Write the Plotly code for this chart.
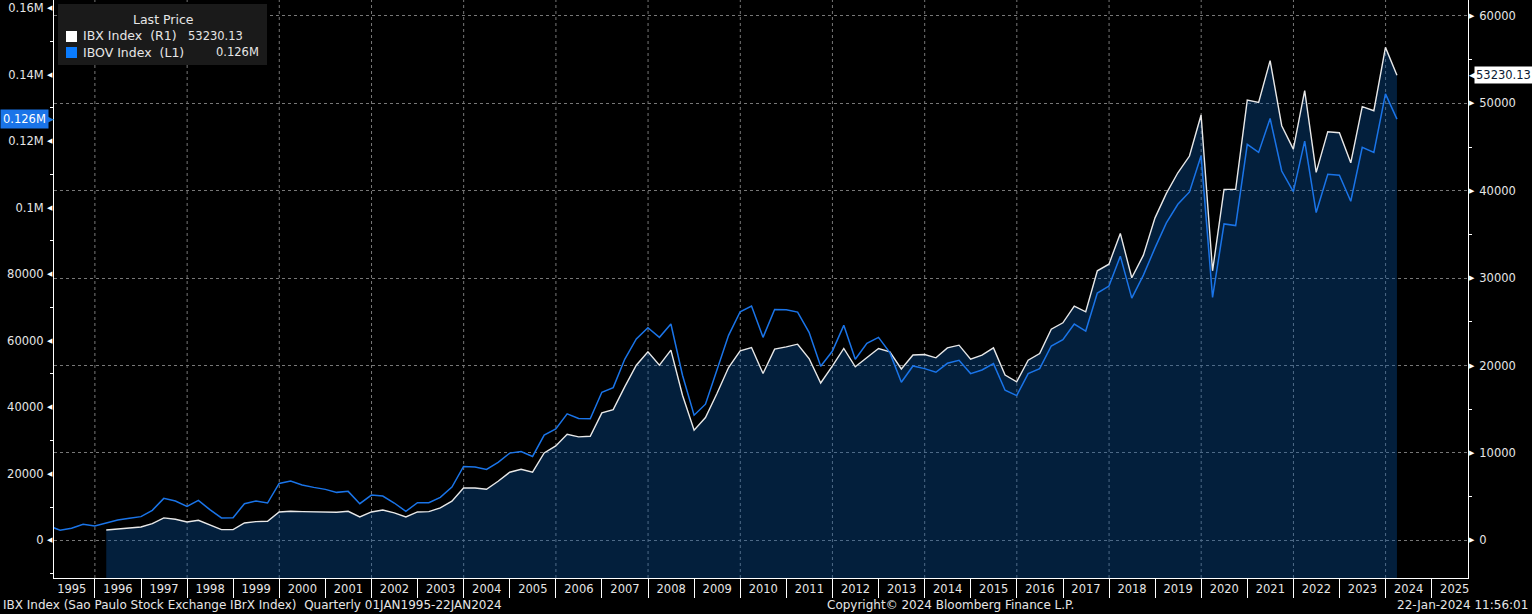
import math
import pandas as pd
import plotly.graph_objects as go

# ---------------- data ----------------
try:
    quarter_ends = pd.date_range("1994-12-31", "2024-03-31", freq="QE")
except Exception:
    quarter_ends = pd.date_range("1994-12-31", "2024-03-31", freq="Q")

# IBOV Index (left axis), quarterly closes, thousands, 1994Q4 .. 2024Q1
ibov_thousands = [
    4.35,
    3.0, 3.6, 4.8, 4.3,        # 1995
    5.3, 6.1, 6.6, 7.1,        # 1996
    9.0, 12.6, 11.8, 10.2,     # 1997
    12.0, 9.2, 6.7, 6.8,       # 1998
    11.0, 11.8, 11.2, 17.1,    # 1999
    17.8, 16.6, 15.9, 15.3,    # 2000
    14.4, 14.7, 11.0, 13.6,    # 2001
    13.3, 11.2, 8.7, 11.3,     # 2002
    11.3, 12.9, 16.0, 22.2,    # 2003
    22.0, 21.3, 23.4, 26.2,    # 2004
    26.7, 25.2, 31.6, 33.5,    # 2005
    38.0, 36.6, 36.5, 44.5,    # 2006
    45.9, 54.4, 60.5, 63.9,    # 2007
    61.0, 65.0, 49.6, 37.6,    # 2008
    40.9, 51.3, 61.6, 68.7,    # 2009
    70.4, 61.0, 69.4, 69.3,    # 2010
    68.6, 62.5, 52.3, 56.8,    # 2011
    64.6, 54.4, 59.2, 61.0,    # 2012
    56.4, 47.5, 52.4, 51.6,    # 2013
    50.5, 53.2, 54.1, 50.1,    # 2014
    51.2, 53.1, 45.1, 43.5,    # 2015
    50.1, 51.6, 58.4, 60.3,    # 2016
    65.0, 62.9, 74.3, 76.4,    # 2017
    85.4, 72.8, 79.7, 87.9,    # 2018
    95.4, 101.0, 104.7, 115.6, # 2019
    73.0, 95.1, 94.6, 119.0,   # 2020
    116.6, 126.8, 111.0, 104.8,# 2021
    120.0, 98.5, 110.0, 109.7, # 2022
    101.9, 118.1, 116.6, 134.2,# 2023
    126.6,                     # 2024
]

# IBX Index (right axis), quarterly closes, 1996Q1 .. 2024Q1
ibx_values = [
    1180, 1300, 1370, 1520,        # 1996
    1910, 2560, 2400, 2100,        # 1997
    2290, 1750, 1220, 1220,        # 1998
    1980, 2140, 2180, 3240,        # 1999
    3320, 3280, 3240, 3200,        # 2000
    3200, 3320, 2670, 3240,        # 2001
    3470, 3130, 2670, 3240,        # 2002
    3280, 3700, 4470, 5990,        # 2003
    5990, 5840, 6760, 7790,        # 2004
    8130, 7790, 10000, 10800,      # 2005
    12140, 11830, 11900, 14580,    # 2006
    14960, 17560, 20040, 21560,    # 2007
    20040, 21760, 16600, 12600,    # 2008
    14050, 16800, 19770, 21680,    # 2009
    22060, 19090, 21870, 22140,    # 2010
    22440, 20800, 18000, 19920,    # 2011
    21950, 19850, 20920, 21950,    # 2012
    21560, 19600, 21200, 21260,    # 2013
    20880, 22020, 22330, 20730,    # 2014
    21180, 22020, 18900, 18130,    # 2015
    20600, 21370, 24160, 24890,    # 2016
    26800, 26150, 30840, 31600,    # 2017
    35120, 30040, 32630, 36900,    # 2018
    39700, 42060, 43970, 48670,    # 2019
    30840, 40160, 40160, 50380,    # 2020
    50120, 54890, 47440, 44770,    # 2021
    51450, 42100, 46760, 46640,    # 2022
    43200, 49620, 49160, 56410,    # 2023
    53230.13,                      # 2024
]

ibov = [v * 1000 for v in ibov_thousands]
ibov_dates = quarter_ends[: len(ibov)]
ibx_dates = quarter_ends[5: 5 + len(ibx_values)]

years = list(range(1995, 2026))
left_tickvals = [0, 20000, 40000, 60000, 80000, 100000, 120000, 140000, 160000]
left_ticktext = ["0", "20000", "40000", "60000", "80000", "0.1M", "0.12M", "0.14M", "0.16M"]
left_minor = [-10000, 10000, 30000, 50000, 70000, 90000, 110000, 130000, 150000]
right_tickvals = [0, 10000, 20000, 30000, 40000, 50000, 60000]
right_ticktext = ["0", "10000", "20000", "30000", "40000", "50000", "60000"]
right_minor = [-5000, 5000, 15000, 25000, 35000, 45000, 55000]

X_RANGE = ["1995-02-11", "2025-10-15"]
Y_LEFT = [-11340, 162400]
Y_RIGHT = [-4317, 61830]

FONT = "DejaVu Sans"
TXT = "#e6e6e6"
BLUE = "#1a74e8"
WHITE_LINE = "#e8e8e8"
GRID = "#777777"

# ---------------- figure ----------------
fig = go.Figure()

# baseline for the IBX area (bottom of the right axis)
fig.add_trace(go.Scatter(
    x=ibx_dates, y=[Y_RIGHT[0]] * len(ibx_values), yaxis="y",
    mode="lines", line=dict(width=0, color="rgba(0,0,0,0)"),
    hoverinfo="skip", showlegend=False))
fig.add_trace(go.Scatter(
    x=ibx_dates, y=ibx_values, yaxis="y", name="IBX Index (R1)",
    mode="lines", line=dict(color=WHITE_LINE, width=1.4),
    fill="tonexty", fillcolor="rgba(8,84,162,0.37)", showlegend=False))
fig.add_trace(go.Scatter(
    x=ibov_dates, y=ibov, yaxis="y2", name="IBOV Index (L1)",
    mode="lines", line=dict(color=BLUE, width=1.5), showlegend=False))

W, H = 1532, 614
ML, MR, MT, MB = 54, 64, 0, 36
PW, PH = W - ML - MR, H - MT - MB


def fx(px):
    return (px - ML) / PW


def fy(py):
    return 1 - (py - MT) / PH


shapes = []
# vertical dashed grid every two years
for y in years:
    if y % 2 == 0:
        shapes.append(dict(type="line", xref="x", yref="paper",
                           x0=f"{y}-01-01", x1=f"{y}-01-01", y0=0, y1=1,
                           line=dict(color=GRID, width=1, dash="3px,3px"), layer="below"))

# legend box
shapes.append(dict(type="rect", xref="paper", yref="paper",
                   x0=fx(58), x1=fx(267), y0=fy(65), y1=fy(4),
                   fillcolor="#1a1a1a", line=dict(width=0), layer="above"))
shapes.append(dict(type="rect", xref="paper", yref="paper",
                   x0=fx(66), x1=fx(77), y0=fy(42), y1=fy(31),
                   fillcolor="#ffffff", line=dict(width=0), layer="above"))
shapes.append(dict(type="rect", xref="paper", yref="paper",
                   x0=fx(66), x1=fx(77), y0=fy(58), y1=fy(47),
                   fillcolor="#0a7cff", line=dict(width=0), layer="above"))

ann = []
# tick triangles
for v in left_tickvals:
    ann.append(dict(xref="paper", yref="y2", x=0, y=v, text="◀", showarrow=False,
                    xanchor="right", yanchor="middle", xshift=1,
                    font=dict(family=FONT, size=7, color="#ffffff")))
for v in right_tickvals:
    ann.append(dict(xref="paper", yref="y", x=1, y=v, text="▶", showarrow=False,
                    xanchor="left", yanchor="middle", xshift=-1,
                    font=dict(family=FONT, size=7, color="#ffffff")))

last_ibov = ibov[-1]
last_ibx = ibx_values[-1]
ibov_label = f"{math.floor(last_ibov / 1000) / 1000:.3f}M"
ibx_label = f"{last_ibx:.2f}"

# last value tags on the axes
ann.append(dict(xref="paper", yref="y2", x=0, y=last_ibov, text=ibov_label,
                showarrow=False, xanchor="right", yanchor="middle", xshift=-5,
                bgcolor=BLUE, borderpad=2,
                font=dict(family=FONT, size=11.5, color="#ffffff")))
ann.append(dict(xref="paper", yref="y2", x=0, y=last_ibov, text="▶",
                showarrow=False, xanchor="right", yanchor="middle", xshift=2,
                font=dict(family=FONT, size=9, color=BLUE)))
ann.append(dict(xref="paper", yref="y", x=1, y=last_ibx, text=ibx_label,
                showarrow=False, xanchor="left", yanchor="middle", xshift=6,
                bgcolor="#ffffff", borderpad=1,
                font=dict(family=FONT, size=11.5, color="#0b1a33")))
ann.append(dict(xref="paper", yref="y", x=1, y=last_ibx, text="◀",
                showarrow=False, xanchor="left", yanchor="middle", xshift=-1,
                font=dict(family=FONT, size=9, color="#ffffff")))

# legend texts
LEG = 12.5
LEGV = 11.5
ann.append(dict(xref="paper", yref="paper", x=fx(163), y=fy(20), text="Last Price",
                showarrow=False, xanchor="center", yanchor="middle",
                font=dict(family=FONT, size=LEG, color=TXT)))
ann.append(dict(xref="paper", yref="paper", x=fx(81), y=fy(36),
                text="IBX Index\u00a0\u00a0(R1)", showarrow=False,
                xanchor="left", yanchor="middle", font=dict(family=FONT, size=LEG, color=TXT)))
ann.append(dict(xref="paper", yref="paper", x=fx(245), y=fy(36), text=ibx_label,
                showarrow=False, xanchor="right", yanchor="middle",
                font=dict(family=FONT, size=LEGV, color=TXT)))
ann.append(dict(xref="paper", yref="paper", x=fx(81), y=fy(52),
                text="IBOV Index\u00a0\u00a0(L1)", showarrow=False,
                xanchor="left", yanchor="middle", font=dict(family=FONT, size=LEG, color=TXT)))
ann.append(dict(xref="paper", yref="paper", x=fx(261), y=fy(52), text=ibov_label,
                showarrow=False, xanchor="right", yanchor="middle",
                font=dict(family=FONT, size=LEGV, color=TXT)))

# footer
FOOT = 12
ann.append(dict(xref="paper", yref="paper", x=fx(1), y=fy(605),
                text="IBX Index (Sao Paulo Stock Exchange IBrX Index)\u00a0\u00a0Quarterly 01JAN1995-22JAN2024",
                showarrow=False, xanchor="left", yanchor="middle",
                font=dict(family=FONT, size=FOOT, color=TXT)))
ann.append(dict(xref="paper", yref="paper", x=fx(950), y=fy(605),
                text="Copyright© 2024 Bloomberg Finance L.P.",
                showarrow=False, xanchor="center", yanchor="middle",
                font=dict(family=FONT, size=FOOT, color=TXT)))
ann.append(dict(xref="paper", yref="paper", x=fx(1530), y=fy(605),
                text="22-Jan-2024 11:56:01",
                showarrow=False, xanchor="right", yanchor="middle",
                font=dict(family=FONT, size=FOOT, color=TXT)))

fig.update_layout(
    width=W, height=H,
    margin=dict(l=ML, r=MR, t=MT, b=MB, pad=0, autoexpand=False),
    paper_bgcolor="#000000", plot_bgcolor="#000000",
    font=dict(family=FONT, size=11, color=TXT),
    showlegend=False,
    xaxis=dict(
        type="date", range=X_RANGE, automargin=False,
        tickmode="array", tickvals=[f"{y}-07-02" for y in years],
        ticktext=[str(y) for y in years],
        ticks="", showgrid=False, zeroline=False,
        showline=True, linecolor="#ffffff", linewidth=1,
        tickfont=dict(family=FONT, size=11.5, color=TXT),
        minor=dict(ticks="outside", ticklen=19, tickcolor="#ffffff", tickwidth=1,
                   tickmode="array", tickvals=[f"{y}-01-01" for y in years],
                   showgrid=False),
    ),
    yaxis=dict(
        side="right", range=Y_RIGHT, automargin=False,
        tickmode="array", tickvals=right_tickvals, ticktext=right_ticktext,
        ticks="outside", ticklen=8, tickcolor="rgba(0,0,0,0)",
        showgrid=True, gridcolor=GRID, griddash="3px,3px", gridwidth=1,
        zeroline=False, showline=True, linecolor="#ffffff", linewidth=1,
        tickfont=dict(family=FONT, size=11.5, color=TXT),
        minor=dict(ticks="outside", ticklen=3, tickcolor="#ffffff",
                   tickmode="array", tickvals=right_minor, showgrid=False),
    ),
    yaxis2=dict(
        side="left", overlaying="y", range=Y_LEFT, automargin=False,
        tickmode="array", tickvals=left_tickvals, ticktext=left_ticktext,
        ticks="outside", ticklen=7, tickcolor="rgba(0,0,0,0)",
        showgrid=False, zeroline=False,
        showline=True, linecolor="#ffffff", linewidth=1,
        tickfont=dict(family=FONT, size=11.5, color=TXT),
        minor=dict(ticks="outside", ticklen=3, tickcolor="#ffffff",
                   tickmode="array", tickvals=left_minor, showgrid=False),
    ),
    shapes=shapes,
    annotations=ann,
)

fig.write_html(
    "out.html",
    config={"displayModeBar": False},
    post_script="document.body.style.margin='0';document.body.style.background='#000';",
)
